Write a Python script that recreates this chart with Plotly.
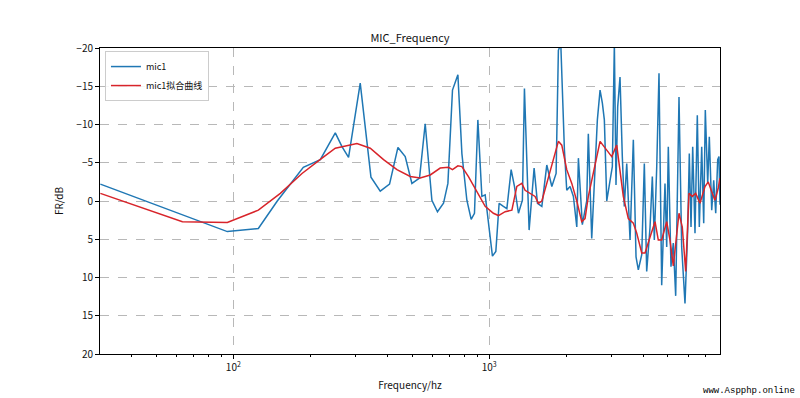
import plotly.graph_objects as go
import math

# ---- data ----
freq_raw = [30.2, 94.7, 125.2, 148.5, 187.7, 218.7, 250.3, 265.8, 282.1, 313.3,
            345.1, 375.2, 407.9, 439.9, 469.7, 498.9, 534.3, 562.3, 597.2, 628.1,
            663.0, 689.8, 718.9, 754.7, 782.4, 818.3, 850.6, 876.2, 903.4, 936.6,
            964.7, 1000, 1030, 1062, 1094, 1137, 1173, 1219, 1256, 1302,
            1349, 1374, 1433, 1499, 1545, 1607, 1680, 1758, 1827, 1865,
            1906, 1941, 1969, 2011, 2072, 2135, 2201, 2233, 2314, 2407,
            2442, 2518, 2594, 2649, 2714, 2771, 2821, 2883, 2970, 3031,
            3087, 3133, 3181, 3248, 3316, 3376, 3451, 3555, 3662, 3752,
            3830, 3950, 4043, 4130, 4257, 4345, 4424, 4521, 4614, 4727,
            4870, 4945, 5017, 5139, 5247, 5362, 5524, 5659, 5830, 5974,
            6061, 6155, 6249, 6380, 6514, 6632, 6777, 6900, 7000, 7153,
            7257, 7416, 7550, 7687, 7827, 7918, 7990]
mic1 = [-2.2, 4.0, 3.6, 0.0, -4.4, -5.4, -8.9, -7.1, -5.7, -15.4,
        -3.1, -1.3, -2.2, -7.0, -5.8, -2.3, -3.0, -10.1, -0.1, 1.4,
        0.3, -2.3, -14.5, -16.5, -6.2, -0.1, 2.4, 1.6, -10.6, -0.6,
        -0.8, 3.4, 7.2, 6.6, 0.3, 0.7, 1.0, -4.1, -1.9, 1.6,
        -0.1, -14.7, 3.8, -4.3, 0.3, 0.7, -4.7, -1.9, -3.6, -19.7,
        -20.5, -12.8, -6.7, -1.4, -1.9, -0.6, 3.4, -5.6, 3.1, 0.0,
        -8.8, 4.9, -3.6, -10.6, -14.5, -12.8, -10.6, 0.0, -2.7, -4.5,
        -20.5, -2.1, -12.3, -16.2, -5.8, 0.7, -4.9, 5.1, -8.0, 7.3,
        9.0, 7.0, -4.9, 9.2, 3.4, -3.2, 5.1, -4.5, -16.7, 11.0,
        -2.3, 6.0, -7.1, 8.6, 5.5, 12.4, -13.6, 6.0, 13.4, 3.8,
        -6.2, 3.4, -7.1, 4.2, -11.2, 3.4, -7.1, 2.9, -11.9, -2.3,
        -8.4, 1.2, -2.7, 1.6, -5.4, -5.8, 0.5]

freq_fit = [30.2, 63.2, 94.7, 125.2, 152.6, 185.5, 222.1, 250.3, 304.2, 342.9,
            386.5, 436.0, 491.4, 537.6, 588.4, 643.6, 693.5, 718.9, 754.7, 782.4,
            830.1, 895.4, 964.7, 1039, 1087, 1155, 1227, 1283, 1342, 1382,
            1446, 1512, 1558, 1607, 1680, 1783, 1865, 1923, 2011, 2104,
            2201, 2301, 2371, 2442, 2554, 2714, 3014, 3153, 3346, 3500,
            3662, 3776, 3950, 4069, 4257, 4452, 4585, 4727, 4945, 5093,
            5247, 5362, 5524, 5690, 5867, 6043, 6225, 6420, 6672, 6980,
            7189, 7416, 7637, 7866, 7990]
mic1_fit = [-1.0, 2.7, 2.8, 1.2, -1.0, -3.6, -5.6, -6.9, -7.5, -6.9,
            -5.4, -4.1, -3.2, -3.0, -3.4, -4.3, -4.4, -4.1, -4.6, -4.5,
            -3.2, -1.2, 0.7, 1.6, 1.9, 1.4, 1.2, -1.9, -2.3, -1.4,
            -1.0, -0.6, 0.3, 0.0, -2.3, -5.4, -7.8, -7.3, -4.1, -2.3,
            0.0, 2.7, 2.3, -0.6, -3.6, -7.8, -5.8, -7.3, -0.6, 2.3,
            2.9, 4.2, 6.8, 6.8, 4.7, 2.7, 5.1, 5.1, 2.7, 5.1,
            8.5, 5.5, 1.6, 3.4, 9.2, -1.0, -0.6, -1.0, 0.3, -1.9,
            -2.5, -1.2, -0.1, -1.7, -3.0]

y_ticks = [-20, -15, -10, -5, 0, 5, 10, 15, 20]
y_ticktext = [str(v).replace("-", "\u2212") for v in y_ticks]
x_ticks = [100, 1000]
x_ticktext = ["10<sup>2</sup>", "10<sup>3</sup>"]
x_minor = [30, 40, 50, 60, 70, 80, 90, 200, 300, 400, 500, 600, 700, 800, 900,
           2000, 3000, 4000, 5000, 6000, 7000]

FONT = "Noto Sans CJK SC, DejaVu Sans, sans-serif"

fig = go.Figure()
fig.add_trace(go.Scatter(x=freq_raw, y=mic1, mode="lines", name="mic1",
                         line=dict(color="#1f77b4", width=1.5)))
fig.add_trace(go.Scatter(x=freq_fit, y=mic1_fit, mode="lines", name="mic1拟合曲线",
                         line=dict(color="#d8242a", width=1.5)))

fig.update_layout(
    width=800, height=398,
    margin=dict(l=100, r=80, t=48, b=44, autoexpand=False),
    paper_bgcolor="white", plot_bgcolor="white",
    font=dict(family=FONT, size=10, color="#111"),
    title=dict(text="MIC_Frequency", x=0.5, xref="paper", xanchor="center",
               y=1 - 38 / 398, yref="container", yanchor="middle",
               font=dict(family=FONT, size=11, color="#111")),
    legend=dict(x=0.008, y=0.99, xanchor="left", yanchor="top",
                bgcolor="rgba(255,255,255,0.85)", bordercolor="#cccccc", borderwidth=1,
                font=dict(family=FONT, size=9), tracegroupgap=0, itemwidth=30),
    showlegend=True,
)
fig.update_xaxes(
    type="log", range=[math.log10(30.1), math.log10(7990)],
    tickvals=x_ticks, ticktext=x_ticktext, automargin=False,
    ticks="outside", ticklen=4, tickcolor="black", tickwidth=1,
    minor=dict(tickvals=x_minor, ticks="outside", ticklen=2, tickcolor="black", showgrid=False),
    showgrid=True, gridcolor="#b8b8b8", griddash="dash", gridwidth=0.8,
    showline=True, linecolor="black", linewidth=1, mirror=True,
    zeroline=False,
    title=dict(text="Frequency/hz", standoff=8, font=dict(family=FONT, size=10)),
)
fig.update_yaxes(
    range=[20, -20], tickvals=y_ticks, ticktext=y_ticktext, automargin=False,
    ticks="outside", ticklen=4, tickcolor="black", tickwidth=1,
    showgrid=True, gridcolor="#b8b8b8", griddash="dash", gridwidth=0.8,
    showline=True, linecolor="black", linewidth=1, mirror=True,
    zeroline=False,
    title=dict(text="FR/dB", standoff=10, font=dict(family=FONT, size=10)),
)
fig.add_annotation(text="www.Aspphp.online", xref="paper", yref="paper",
                   x=1.0 + 77 / 620, y=-37 / 306, xanchor="right", yanchor="middle",
                   showarrow=False, font=dict(family="Liberation Mono, monospace", size=9, color="black"))

fig.write_html("out.html", config={"displayModeBar": False},
               post_script="document.body.style.margin='0px';document.body.style.overflow='hidden';")
